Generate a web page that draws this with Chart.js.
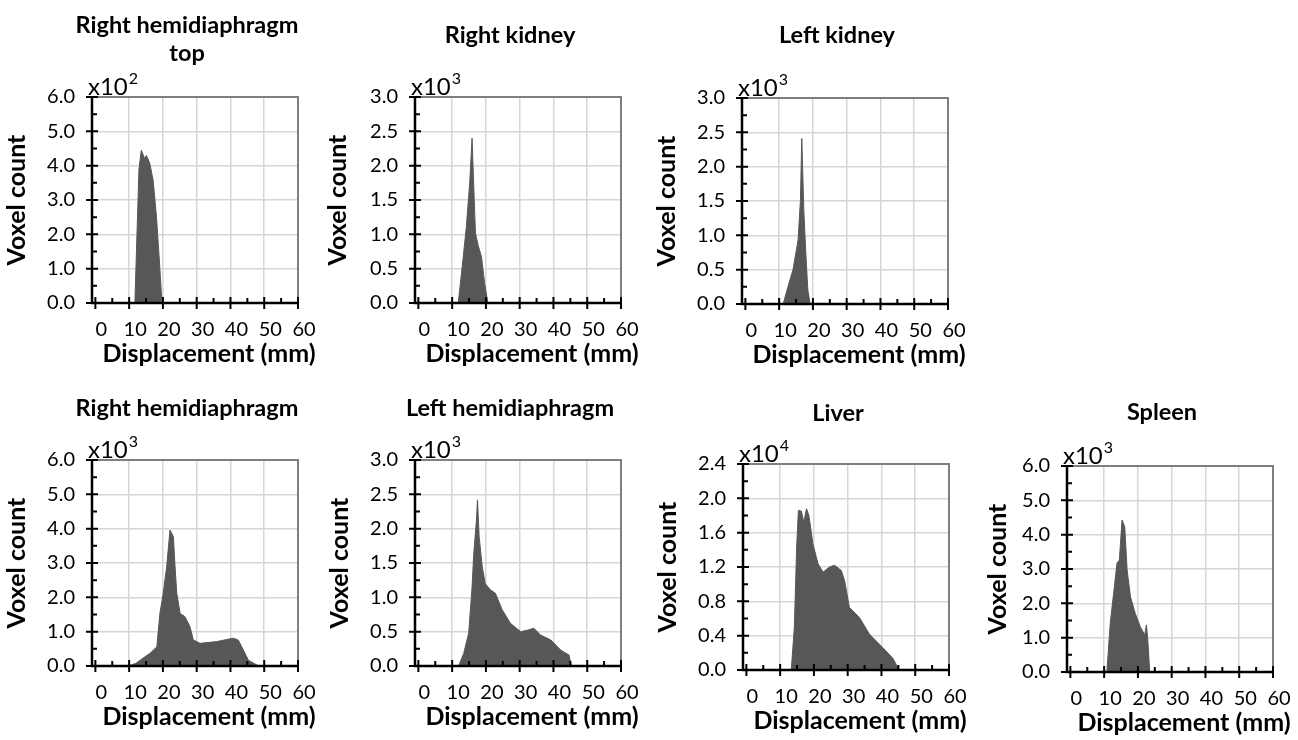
<!DOCTYPE html>
<html>
<head>
<meta charset="utf-8">
<script src="https://cdn.jsdelivr.net/npm/chart.js@4.4.1/dist/chart.umd.min.js"></script>
<style>
  body { margin: 0; background: #fff; width: 1298px; height: 740px; position: relative; overflow: hidden; }
  canvas { position: absolute; }
</style>
</head>
<body>
<script>
// tick labels shared by every panel
const xTickValues = [0, 10, 20, 30, 40, 50, 60];
const xMinorValues = [5, 15, 25, 35, 45, 55];

// displacement (mm) / voxel count (in the panel's x10^n units)
const rhTopDisp = [11.7, 12.9, 13.6, 14.6, 15.1, 16.1, 17.1, 18.1, 19.0, 19.7];
const rhTopCount = [0, 3.9, 4.45, 4.2, 4.3, 4.07, 3.58, 2.5, 1.16, 0];

const rKidneyDisp = [11.8, 13.2, 14.2, 15.2, 15.9, 16.4, 16.9, 17.7, 18.7, 19.6, 20.6];
const rKidneyCount = [0, 0.63, 1.11, 1.75, 2.40, 1.69, 1.02, 0.84, 0.67, 0.29, 0];

const lKidneyDisp = [11.2, 12.6, 14.1, 15.6, 16.3, 16.7, 17.3, 17.9, 18.5, 19.2];
const lKidneyCount = [0, 0.25, 0.50, 0.93, 1.51, 2.41, 1.37, 0.74, 0.20, 0];

const rHemiDisp = [9.8, 12.0, 14.7, 16.2, 18.2, 19.1, 20.1, 21.1, 22.1, 23.1, 23.6, 24.1, 25.1, 26.5, 28.0, 29.0, 31.0, 35.9, 40.8, 42.3, 43.8, 45.3, 47.8, 48.7];
const rHemiCount = [0, 0.08, 0.27, 0.37, 0.56, 1.53, 2.12, 2.89, 3.96, 3.77, 2.89, 2.12, 1.53, 1.44, 1.15, 0.76, 0.66, 0.71, 0.81, 0.76, 0.47, 0.17, 0.03, 0];

const lHemiDisp = [11.9, 13.4, 14.9, 15.9, 16.4, 17.2, 17.5, 18.0, 18.9, 19.8, 21.3, 22.8, 24.8, 27.3, 30.3, 32.2, 34.2, 36.2, 39.2, 42.2, 44.6, 45.3];
const lHemiCount = [0, 0.18, 0.48, 1.15, 1.64, 2.13, 2.42, 1.88, 1.45, 1.20, 1.11, 1.06, 0.82, 0.62, 0.50, 0.52, 0.55, 0.45, 0.38, 0.23, 0.16, 0];

const liverDisp = [13.3, 14.2, 14.9, 15.4, 16.3, 17.0, 17.8, 18.5, 19.0, 19.7, 21.2, 22.7, 24.6, 26.1, 28.1, 29.1, 30.5, 33.5, 36.4, 40.4, 43.3, 45.3];
const liverCount = [0, 0.5, 1.45, 1.86, 1.85, 1.72, 1.88, 1.80, 1.67, 1.47, 1.24, 1.14, 1.20, 1.22, 1.16, 1.04, 0.73, 0.61, 0.42, 0.26, 0.14, 0];

const spleenDisp = [10.8, 11.8, 12.8, 13.8, 14.5, 15.3, 16.1, 16.8, 17.8, 19.2, 20.7, 22.0, 22.5, 22.9, 23.5];
const spleenCount = [0, 1.42, 2.29, 3.17, 3.26, 4.43, 4.23, 2.97, 2.19, 1.71, 1.32, 1.08, 1.37, 0.98, 0];

const panels = [
  { title: ['Right hemidiaphragm', 'top'], exp: '2', yMax: 6, yStep: 1, xs: rhTopDisp, ys: rhTopCount },
  { title: ['Right kidney'], exp: '3', yMax: 3, yStep: 0.5, xs: rKidneyDisp, ys: rKidneyCount },
  { title: ['Left kidney'], exp: '3', yMax: 3, yStep: 0.5, xs: lKidneyDisp, ys: lKidneyCount },
  { title: ['Right hemidiaphragm'], exp: '3', yMax: 6, yStep: 1, xs: rHemiDisp, ys: rHemiCount },
  { title: ['Left hemidiaphragm'], exp: '3', yMax: 3, yStep: 0.5, xs: lHemiDisp, ys: lHemiCount },
  { title: ['Liver'], exp: '4', yMax: 2.4, yStep: 0.4, xs: liverDisp, ys: liverCount },
  { title: ['Spleen'], exp: '3', yMax: 6, yStep: 1, xs: spleenDisp, ys: spleenCount },
];

// where each plot area sits on the page, title offsets above it, gap before the y title
const panelPos = [
  { x: 92, y: 97, titleY: [-72, -44], yTitlePad: 2 },
  { x: 415, y: 97, titleY: [-62], yTitlePad: 0 },
  { x: 742, y: 98, titleY: [-63], yTitlePad: 2 },
  { x: 92, y: 460, titleY: [-52], yTitlePad: 2 },
  { x: 415, y: 460, titleY: [-52], yTitlePad: 2 },
  { x: 743, y: 464, titleY: [-51], yTitlePad: 2 },
  { x: 1067, y: 466, titleY: [-54], yTitlePad: 8 },
];

const PLOT = 206;
const Y_AXIS_W = 92;
const TOP_PAD = 97;
const RIGHT_PAD = 40;
const X_AXIS_H = 70;
const FONT = 'Lato';

// frame, crossing ticks and the text around each plot
const panelDecor = {
  id: 'panelDecor',
  afterDatasetsDraw(chart, args, opts) {
    const { ctx, chartArea: a, scales: { x, y } } = chart;
    ctx.save();
    ctx.strokeStyle = '#7f7f7f';
    ctx.lineWidth = 2;
    ctx.beginPath();
    ctx.moveTo(a.left, a.top);
    ctx.lineTo(a.right, a.top);
    ctx.lineTo(a.right, a.bottom);
    ctx.stroke();

    ctx.strokeStyle = '#000';
    ctx.lineWidth = 2.5;
    ctx.beginPath();
    ctx.moveTo(a.left, a.top - 1);
    ctx.lineTo(a.left, a.bottom);
    ctx.lineTo(a.right + 1, a.bottom);
    ctx.stroke();

    ctx.lineWidth = 2;
    ctx.beginPath();
    xTickValues.forEach(v => {
      const px = x.getPixelForValue(v);
      ctx.moveTo(px, a.bottom + 6);
      ctx.lineTo(px, a.bottom - 6);
    });
    xMinorValues.forEach(v => {
      const px = x.getPixelForValue(v);
      ctx.moveTo(px, a.bottom);
      ctx.lineTo(px, a.bottom - 5);
    });
    for (let v = 0; v <= opts.yMax + 1e-9; v += opts.yStep / 2) {
      const py = y.getPixelForValue(v);
      const major = Math.round(v / opts.yStep * 2) % 2 === 0;
      ctx.moveTo(major ? a.left - 6 : a.left, py);
      ctx.lineTo(a.left + (major ? 6 : 5), py);
    }
    ctx.stroke();
    ctx.restore();
  },
  afterDraw(chart, args, opts) {
    const { ctx, chartArea: a } = chart;
    ctx.save();
    ctx.fillStyle = '#000';
    ctx.textAlign = 'center';
    ctx.textBaseline = 'middle';
    ctx.font = `bold 23.5px ${FONT}`;
    opts.title.forEach((line, i) => {
      ctx.fillText(line, a.left + 95, a.top + opts.titleY[i]);
    });
    ctx.font = `bold 25px ${FONT}`;
    ctx.fillText('Displacement (mm)', (a.left + a.right) / 2 + 14, a.bottom + 51);

    ctx.textAlign = 'left';
    ctx.textBaseline = 'alphabetic';
    ctx.font = `24px ${FONT}`;
    ctx.fillText('x10', a.left - 4, a.top - 2);
    const w = ctx.measureText('x10').width;
    ctx.font = `16px ${FONT}`;
    ctx.fillText(opts.exp, a.left - 4 + w + 1, a.top - 13);
    ctx.restore();
  }
};

const gridColor = ctx => (ctx.tick && ctx.tick.value === 0 ? 'rgba(0,0,0,0)' : '#d6d6d6');

panels.forEach((p, i) => {
  const pos = panelPos[i];
  const canvas = document.createElement('canvas');
  canvas.width = Y_AXIS_W + PLOT + RIGHT_PAD;
  canvas.height = TOP_PAD + PLOT + X_AXIS_H;
  canvas.style.left = (pos.x - Y_AXIS_W) + 'px';
  canvas.style.top = (pos.y - TOP_PAD) + 'px';
  document.body.appendChild(canvas);

  new Chart(canvas, {
    type: 'line',
    data: {
      datasets: [{
        data: p.xs.map((v, k) => ({ x: v, y: p.ys[k] })),
        borderColor: '#575757',
        backgroundColor: '#575757',
        borderWidth: 1,
        pointRadius: 0,
        tension: 0,
        fill: 'origin',
      }],
    },
    options: {
      responsive: false,
      animation: false,
      layout: { padding: { top: TOP_PAD, right: RIGHT_PAD, left: 0, bottom: 0 } },
      plugins: {
        legend: { display: false },
        tooltip: { enabled: false },
        panelDecor: { title: p.title, titleY: pos.titleY, exp: p.exp, yMax: p.yMax, yStep: p.yStep },
      },
      scales: {
        x: {
          type: 'linear',
          min: -1,
          max: 60,
          afterBuildTicks: s => { s.ticks = xTickValues.map(v => ({ value: v })); },
          afterFit: s => { s.height = X_AXIS_H; },
          border: { display: false },
          grid: { color: gridColor, lineWidth: 1.5, drawTicks: false },
          ticks: { color: '#000', font: { family: FONT, size: 20 }, padding: 15, labelOffset: 6, maxRotation: 0, autoSkip: false },
        },
        y: {
          min: 0,
          max: p.yMax,
          afterFit: s => { s.width = Y_AXIS_W; },
          border: { display: false },
          grid: { color: gridColor, lineWidth: 1.5, drawTicks: false },
          ticks: { stepSize: p.yStep, color: '#000', font: { family: FONT, size: 20 }, padding: 17, callback: v => v.toFixed(1) },
          title: { display: true, text: 'Voxel count', color: '#000', font: { family: FONT, size: 25, weight: 'bold' }, padding: { top: pos.yTitlePad, bottom: 0 } },
        },
      },
    },
    plugins: [panelDecor],
  });
});
</script>
</body>
</html>
